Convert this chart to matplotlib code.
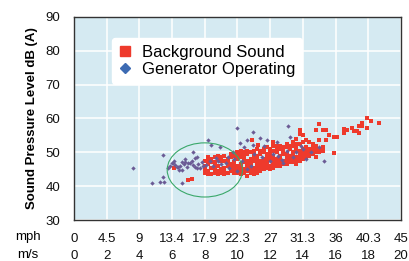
import matplotlib.pyplot as plt
from matplotlib.patches import Ellipse

plt.rcParams.update({
    "font.family": "sans-serif",
    "font.sans-serif": ["Liberation Sans", "DejaVu Sans"],
    "font.size": 9.5,
})

# wind speed axis: m/s with matching mph labels
ms_ticks = [0, 2, 4, 6, 8, 10, 12, 14, 16, 18, 20]
mph_labels = ["0", "4.5", "9", "13.4", "17.9", "22.3", "27", "31.3", "36", "40.3", "45"]
db_ticks = [30, 40, 50, 60, 70, 80, 90]

# background sound (red)
bg_ms = [6.1, 7.0, 7.2,
         8.0, 8.0, 8.0, 8.0,
         8.2, 8.2, 8.2, 8.2, 8.2,
         8.4, 8.4, 8.4, 8.4,
         8.6, 8.6, 8.6, 8.6, 8.6,
         8.8, 8.8, 8.8, 8.8, 8.8,
         9.0, 9.0, 9.0, 9.0,
         9.2, 9.2, 9.2, 9.2, 9.2,
         9.4, 9.4, 9.4, 9.4,
         9.6, 9.6, 9.6, 9.6, 9.6,
         9.8, 9.8, 9.8, 9.8, 9.8,
         10.0, 10.0, 10.0, 10.0, 10.0, 10.0,
         10.2, 10.2, 10.2, 10.2, 10.2, 10.2, 10.2,
         10.4, 10.4, 10.4, 10.4, 10.4, 10.4,
         10.6, 10.6, 10.6, 10.6, 10.6, 10.6, 10.6,
         10.8, 10.8, 10.8, 10.8, 10.8, 10.8, 10.9,
         11.0, 11.0, 11.0, 11.0, 11.0, 11.0, 11.0,
         11.2, 11.2, 11.2, 11.2, 11.2, 11.2, 11.2, 11.25,
         11.4, 11.4, 11.4, 11.4, 11.4, 11.4,
         11.6, 11.6, 11.6, 11.6, 11.6, 11.6,
         11.8, 11.8, 11.8, 11.8, 11.8, 11.8,
         12.0, 12.0, 12.0, 12.0, 12.0, 12.0,
         12.2, 12.2, 12.2, 12.2, 12.2, 12.2, 12.2,
         12.4, 12.4, 12.4, 12.4, 12.4, 12.4,
         12.6, 12.6, 12.6, 12.6, 12.6, 12.6,
         12.8, 12.8, 12.8, 12.8, 12.8,
         13.0, 13.0, 13.0, 13.0, 13.0, 13.0,
         13.2, 13.2, 13.2, 13.2, 13.2,
         13.4, 13.4, 13.4, 13.4, 13.4, 13.4,
         13.6, 13.6, 13.6, 13.6, 13.6, 13.6, 13.6,
         13.8, 13.8, 13.8, 13.8, 13.8, 13.8, 13.8,
         14.0, 14.0, 14.0, 14.0, 14.0, 14.0,
         14.2, 14.2, 14.2, 14.2, 14.2,
         14.4, 14.4, 14.4, 14.4,
         14.6, 14.6, 14.6, 14.6,
         14.8, 14.8, 14.8, 14.8, 14.8,
         15.0, 15.0, 15.0, 15.0,
         15.2, 15.2, 15.2,
         15.4, 15.4, 15.6, 15.9, 15.9, 16.1,
         16.5, 16.5, 16.7, 17.0, 17.1, 17.3, 17.45, 17.45,
         17.6, 17.6, 17.9, 17.9, 18.15, 18.65]
bg_db = [45.4, 41.9, 42.2,
         44.0, 45.0, 46.0, 47.5,
         43.5, 44.5, 46.5, 47.5, 48.5,
         43.5, 45.5, 47.0, 48.0,
         44.0, 45.0, 46.0, 47.0, 48.5,
         43.5, 44.5, 46.0, 48.0, 49.0,
         44.0, 45.0, 47.5, 48.5,
         43.5, 44.5, 45.5, 47.5, 49.0,
         44.0, 46.0, 47.0, 48.0,
         44.5, 45.5, 46.5, 48.5, 49.5,
         44.0, 45.0, 46.0, 47.0, 49.0,
         44.0, 45.0, 46.0, 48.0, 49.0, 50.0,
         43.5, 44.5, 45.5, 46.5, 48.5, 49.5, 50.5,
         44.0, 45.0, 47.0, 48.0, 49.0, 50.0,
         43.0, 44.5, 45.5, 46.5, 47.5, 49.5, 50.5,
         44.0, 45.0, 46.0, 47.0, 48.0, 50.0, 53.6,
         43.5, 44.5, 45.5, 47.5, 48.5, 49.5, 50.5,
         44.0, 45.0, 46.0, 47.0, 48.0, 49.0, 51.0, 52.2,
         44.5, 45.5, 46.5, 47.5, 49.5, 50.5,
         45.0, 46.0, 47.0, 48.0, 50.0, 51.0,
         45.5, 46.5, 47.5, 48.5, 49.5, 51.5,
         45.0, 46.0, 48.0, 49.0, 50.0, 51.0,
         45.5, 46.5, 47.5, 48.5, 50.5, 52.0, 53.0,
         46.0, 47.0, 48.0, 50.0, 51.0, 52.0,
         46.0, 47.0, 48.0, 49.0, 51.0, 52.0,
         46.5, 47.5, 49.5, 50.5, 51.5,
         46.5, 47.5, 48.5, 49.5, 51.5, 52.5,
         47.0, 48.0, 49.0, 51.0, 52.0,
         47.0, 48.0, 49.0, 50.0, 52.0, 53.0,
         46.5, 47.5, 48.5, 50.5, 51.5, 52.5, 54.0,
         47.5, 48.5, 49.5, 50.5, 52.5, 55.5, 56.5,
         48.0, 49.0, 50.0, 51.0, 53.0, 55.0,
         48.5, 49.5, 50.5, 51.5, 53.5,
         49.0, 50.0, 51.0, 53.0,
         49.5, 50.5, 51.5, 52.5,
         48.5, 50.0, 51.0, 52.0, 56.5,
         50.0, 51.0, 53.5, 58.3,
         50.5, 51.5, 56.6,
         53.6, 56.6, 55.1, 49.7, 54.6, 54.4,
         55.8, 56.9, 56.6, 57.3, 56.3, 56.4, 55.6, 57.9,
         57.8, 58.6, 57.1, 60.0, 59.3, 58.7]

# generator operating (purple)
gen_ms = [3.6, 4.75, 5.26, 5.52, 5.46, 5.46, 5.77, 6.07, 6.38, 6.59, 6.59,
          6.79, 7.1, 7.3, 7.4, 7.5, 7.7, 8.2, 8.4, 8.7, 8.9, 9.3, 9.7,
          9.95, 10.15, 10.6, 10.97, 10.97, 11.4, 11.8, 12.4, 13.1, 13.2,
          5.9, 6.0, 6.1, 6.2, 6.3, 6.4, 6.5, 6.6, 6.7, 6.9, 7.0, 7.2,
          7.3, 7.5, 7.6, 7.8, 7.9, 8.1, 8.3, 7.4, 6.8,
          9.0, 9.5, 10.3, 10.8, 11.5, 12.0, 12.5, 13.0, 13.4, 14.0,
          14.5, 11.0, 9.8, 8.5, 8.8, 10.0, 12.8, 15.0, 15.3,
          10.4, 11.6, 12.2, 13.6, 14.2, 9.4, 10.6, 12.7, 13.9]
gen_db = [45.3, 40.8, 41.3, 41.3, 49.2, 42.8, 45.3, 46.8, 45.8, 44.8, 40.8,
          47.2, 46.8, 50.2, 45.8, 48.7, 45.3, 53.6, 52.2, 48.2, 51.7, 46.8, 50.2,
          57.1, 52.7, 53.6, 56.1, 52.2, 54.2, 53.6, 53.1, 57.8, 54.6,
          46.0, 46.8, 47.3, 46.4, 45.6, 44.9, 46.0, 47.0, 46.5, 45.8, 46.9, 47.3,
          46.2, 45.5, 46.6, 47.2, 45.9, 46.4, 47.4, 48.3, 47.9,
          46.5, 45.5, 47.5, 46.0, 48.5, 47.5, 49.0, 50.5, 48.5, 51.0,
          50.0, 49.5, 48.0, 46.0, 47.5, 44.5, 46.8, 51.5, 47.5,
          51.5, 52.0, 49.5, 50.0, 48.0, 48.5, 45.0, 47.8, 51.8]

fig = plt.figure(figsize=(4.1, 2.61), dpi=100)
ax = fig.add_axes([0.1805, 0.157, 0.7975, 0.778])
ax.set_facecolor("#d5eaf2")

ax.scatter(bg_ms, bg_db, marker="s", s=11, color="#ee3a2c", linewidths=0,
           label="Background Sound", zorder=3)
ax.scatter(gen_ms, gen_db, marker="D", s=5, color="#6b5b95", linewidths=0,
           label="Generator Operating", zorder=4)

ax.add_patch(Ellipse((8.0, 44.8), 4.6, 16.0, facecolor="none",
                     edgecolor="#3aa86a", linewidth=0.8, zorder=5))

ax.set_xlim(0, 20)
ax.set_ylim(30, 90)
ax.set_yticks(db_ticks)
ax.set_xticks(ms_ticks, labels=[f"{a}\n{b}" for a, b in zip(mph_labels, ms_ticks)])
for lab in ax.get_xticklabels():
    lab.set_linespacing(1.65)
ax.tick_params(length=0, labelsize=9.5, colors="#111111")
ax.tick_params(axis="y", pad=10)
ax.tick_params(axis="x", pad=9)
ax.grid(color="white", linewidth=1.1)
ax.set_axisbelow(True)
for sp in ax.spines.values():
    sp.set_color("#333333")
    sp.set_linewidth(1.0)

ax.set_ylabel("Sound Pressure Level dB (A)", fontweight="bold", fontsize=9.5, labelpad=5)

fig.text(28 / 410, 1 - 237 / 261, "mph", ha="center", va="center", fontsize=9.5)
fig.text(28 / 410, 1 - 255 / 261, "m/s", ha="center", va="center", fontsize=9.5)

# legend with the larger markers of the original
h1 = plt.Line2D([], [], marker="s", color="#ee3a2c", linestyle="none", markersize=7)
h2 = plt.Line2D([], [], marker="D", color="#3d6bb3", linestyle="none", markersize=5.5)
leg = ax.legend([h1, h2], ["Background Sound", "Generator Operating"],
                loc="upper left", bbox_to_anchor=(0.116, 0.897), borderaxespad=0,
                fontsize=12, frameon=True, fancybox=True, framealpha=1,
                handlelength=0.8, handletextpad=0.6, labelspacing=0.15,
                borderpad=0.4)
leg.get_frame().set_edgecolor("white")
leg.get_frame().set_facecolor("white")

fig.savefig("out.png", dpi=100)
